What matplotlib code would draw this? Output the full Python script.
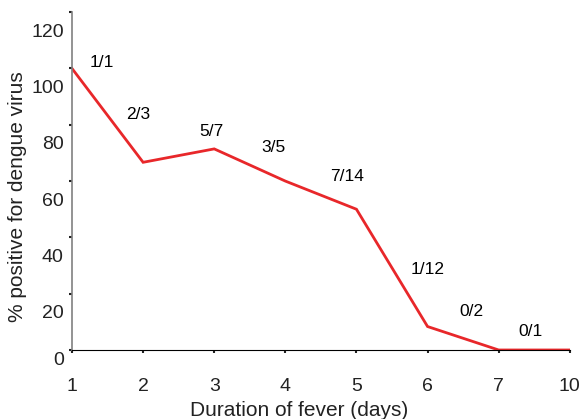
import numpy as np
import matplotlib.pyplot as plt
import matplotlib.transforms as mtransforms

plt.rcParams['font.family'] = ['Liberation Sans', 'DejaVu Sans']

days = ["1", "2", "3", "4", "5", "6", "7", "10"]
positive = [1, 2, 5, 3, 7, 1, 0, 0]
tested = [1, 3, 7, 5, 14, 12, 2, 1]
pct = [100.0 * p / t for p, t in zip(positive, tested)]
yticks = [0, 20, 40, 60, 80, 100, 120]

# where the n/N labels sit (x index, y value)
label_pos = [(0.42, 102), (0.93, 83.5), (1.96, 77.5), (2.83, 72),
             (3.87, 61.5), (5.0, 28.5), (5.62, 13.5), (6.45, 6.5)]

fig = plt.figure(figsize=(5.82, 4.19), dpi=100)
ax = fig.add_axes([0.1237, 0.1647, 0.8553, 0.8063])

x = np.arange(len(days))
ax.plot(x, pct, color="#e8272a", lw=2.0, solid_joinstyle="miter")

for (lx, ly), p, t in zip(label_pos, positive, tested):
    ax.text(lx, ly, f"{p}/{t}", fontsize=12.5, ha="center", va="center")

ax.set_xlim(0, 7)
ax.set_ylim(0, 120)
ax.set_xticks(x)
ax.set_xticklabels(days, fontsize=14)
ax.set_yticks(yticks)
ax.set_yticklabels([str(v) for v in yticks], fontsize=14)

ax.spines["top"].set_visible(False)
ax.spines["right"].set_visible(False)
ax.spines["left"].set_color("#808080")
ax.spines["left"].set_linewidth(1.2)
ax.spines["bottom"].set_color("black")
ax.spines["bottom"].set_linewidth(0.8)
ax.tick_params(axis="x", length=2, width=1.5, pad=18, colors="#222222")
ax.tick_params(axis="y", length=2, width=1.5, pad=4, colors="#222222")

# tick labels in the original sit below their ticks
for i, lab in enumerate(ax.get_yticklabels()):
    dy = -6 / 72 if i == 0 else -13 / 72
    lab.set_transform(lab.get_transform() +
                      mtransforms.ScaledTranslation(0, dy, fig.dpi_scale_trans))

ax.set_xlabel("Duration of fever (days)", fontsize=15, color="#222222", va="center")
ax.set_ylabel("% positive for dengue virus", fontsize=15, color="#222222", va="center")
ax.xaxis.set_label_coords(0.456, -0.18)
ax.yaxis.set_label_coords(-0.109, 0.453)

fig.savefig("out.png", dpi=100)
